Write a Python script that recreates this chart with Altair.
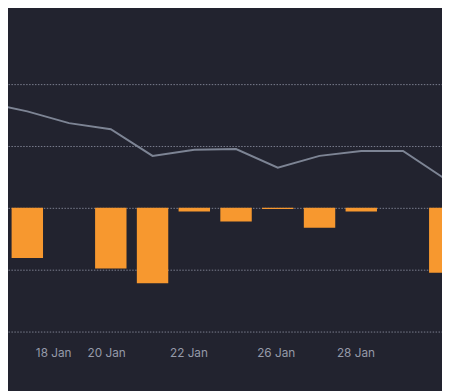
import altair as alt
import pandas as pd

# Line series (index position -> value)
line_idx = [-1, 0, 1, 2, 3, 4, 5, 6, 7, 8, 9, 10]
line_vals = [1.70, 1.56, 1.37, 1.27, 0.84, 0.94, 0.95, 0.65, 0.84, 0.92, 0.92, 0.47]

# Bar series
bar_idx = [0, 1, 2, 3, 4, 5, 6, 7, 8, 9, 10]
bar_vals = [-0.81, 0.0, -0.98, -1.22, -0.06, -0.22, -0.02, -0.32, -0.06, 0.0, -1.05]

# X tick labels
tick_pos = [0.62, 1.89, 3.86, 5.95, 7.86]
tick_labels = ["18 Jan", "20 Jan", "22 Jan", "26 Jan", "28 Jan"]

# Y grid values
grid_vals = [-2, -1, 0, 1, 2]

line_df = pd.DataFrame({"k": line_idx, "v": line_vals})
bar_df = pd.DataFrame({"k": bar_idx, "v": bar_vals})

label_expr = "".join(f"datum.value == {p} ? '{l}' : " for p, l in zip(tick_pos, tick_labels)) + "''"

x_scale = alt.Scale(domain=[-0.345, 9.816], nice=False, zero=False)
y_scale = alt.Scale(domain=[-2.175, 3.175], nice=False, zero=False)

x_enc = alt.X(
    "k:Q",
    scale=x_scale,
    axis=alt.Axis(
        values=tick_pos,
        labelExpr=label_expr,
        grid=False,
        domain=False,
        ticks=False,
        title=None,
        labelColor="#959aa9",
        labelFontSize=12,
        labelFont="Inter",
        labelPadding=5,
        labelFlush=False,
        labelOverlap=False,
    ),
)

y_axis = alt.Axis(
    values=grid_vals,
    grid=True,
    gridColor="#7c8090",
    gridDash=[1.5, 1.5],
    gridWidth=1,
    labels=False,
    domain=False,
    ticks=False,
    title=None,
)

bars = alt.Chart(bar_df).mark_bar(size=32, color="#f7982f", clip=True).encode(
    x=x_enc,
    y=alt.Y("v:Q", scale=y_scale, axis=y_axis),
    y2=alt.datum(0),
)

line = alt.Chart(line_df).mark_line(color="#7d8494", strokeWidth=2, clip=True).encode(
    x=alt.X("k:Q", scale=x_scale),
    y=alt.Y("v:Q", scale=y_scale),
)

chart = (
    alt.layer(bars, line)
    .properties(
        width=442,
        height=337,
        background="#22232f",
        padding={"left": 0, "top": 0, "right": 0, "bottom": 46},
        autosize=alt.AutoSizeParams(type="none"),
    )
    .configure_view(strokeWidth=0)
)

chart.save("out.html", embed_options={"renderer": "svg", "actions": False})
